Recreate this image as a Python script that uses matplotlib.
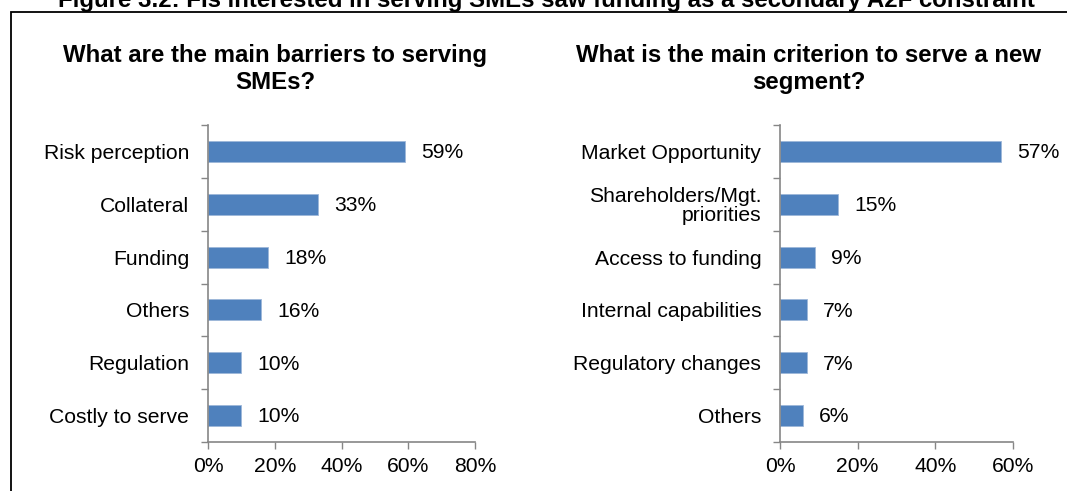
import matplotlib.pyplot as plt
from matplotlib.patches import Rectangle

plt.rcParams['font.family'] = ['Liberation Sans', 'DejaVu Sans']

# barrier survey
barriers = ['Risk perception', 'Collateral', 'Funding', 'Others', 'Regulation', 'Costly to serve']
barrier_pct = [59, 33, 18, 16, 10, 10]

# criterion survey
criteria = ['Market Opportunity', 'Shareholders/Mgt.\npriorities', 'Access to funding',
            'Internal capabilities', 'Regulatory changes', 'Others']
criteria_pct = [57, 15, 9, 7, 7, 6]

left_ticks = [0, 20, 40, 60, 80]
right_ticks = [0, 20, 40, 60]

bar_col = '#4f81bd'
axis_col = '#868686'
fs = 15.2

fig = plt.figure(figsize=(10.67, 4.91), dpi=100)

# outer frame, runs off the right and bottom edges
fig.patches.append(Rectangle((11 / 1067, -0.2), 2, 1.2 - 12 / 491, transform=fig.transFigure,
                             fill=False, edgecolor='black', lw=1.3))

fig.text(546 / 1067, 1 - 7 / 491,
         'Figure 3.2: FIs interested in serving SMEs saw funding as a secondary A2F constraint',
         ha='center', va='baseline', fontsize=17.3, fontweight='bold')


def draw(ax, cats, vals, ticks):
    n = len(cats)
    pos = list(range(n))
    ax.barh(pos, vals, height=0.4, color=bar_col, edgecolor='#9db7d9', lw=0.6)
    ax.set_ylim(n - 0.5, -0.5)
    ax.set_xlim(ticks[0], ticks[-1])
    ax.set_xticks(ticks)
    ax.set_xticklabels([f'{t}%' for t in ticks])
    # category boundaries get tick marks, labels sit between them
    ax.set_yticks([i - 0.5 for i in range(n + 1)])
    ax.set_yticklabels([])
    ax.set_yticks(pos, minor=True)
    ax.set_yticklabels(cats, minor=True, fontsize=fs, linespacing=1.0)
    ax.tick_params(axis='y', which='minor', length=0, pad=13.5)
    ax.tick_params(axis='both', which='major', length=5, width=1, color=axis_col)
    ax.tick_params(axis='x', labelsize=fs, pad=6)
    for s in ['top', 'right']:
        ax.spines[s].set_visible(False)
    for s in ['left', 'bottom']:
        ax.spines[s].set_color(axis_col)
        ax.spines[s].set_linewidth(1.2)
    for p, v in zip(pos, vals):
        ax.annotate(f'{v}%', (v, p), xytext=(11.5, -1), textcoords='offset points',
                    ha='left', va='center', fontsize=fs)


ax1 = fig.add_axes([208 / 1067, 1 - 442 / 491, 267 / 1067, 317 / 491])
draw(ax1, barriers, barrier_pct, left_ticks)

ax2 = fig.add_axes([780 / 1067, 1 - 442 / 491, 233 / 1067, 317 / 491])
draw(ax2, criteria, criteria_pct, right_ticks)

# chart titles
fig.text(275 / 1067, 1 - 44 / 491, 'What are the main barriers to serving\nSMEs?',
         ha='center', va='top', fontsize=17.3, fontweight='bold', linespacing=1.22)
fig.text(809 / 1067, 1 - 44 / 491, 'What is the main criterion to serve a new\nsegment?',
         ha='center', va='top', fontsize=17.3, fontweight='bold', linespacing=1.22)

plt.savefig('out.png', dpi=100)
